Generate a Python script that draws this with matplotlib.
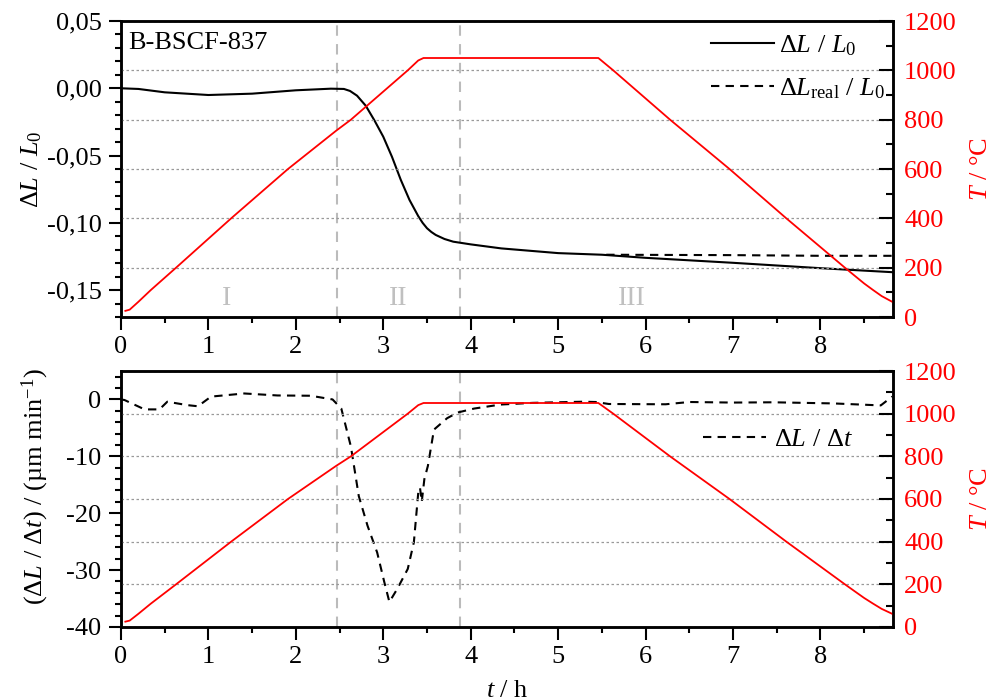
import matplotlib
matplotlib.use('Agg')
import matplotlib.pyplot as plt
from matplotlib.ticker import MultipleLocator, FuncFormatter

plt.rcParams['font.family'] = ['Liberation Serif', 'DejaVu Serif']
plt.rcParams['mathtext.fontset'] = 'custom'
plt.rcParams['mathtext.rm'] = 'Liberation Serif'
plt.rcParams['mathtext.it'] = 'Liberation Serif:italic'
plt.rcParams['font.size'] = 19
plt.rcParams['axes.unicode_minus'] = False

# Temperatur-Programm (rote Kurve, beide Diagramme)
t_temp = [0.05, 0.1, 0.2, 0.34, 0.63, 1.26, 1.91, 2.46, 2.63, 3.28, 3.4, 3.46, 5.46, 5.63,
          6.28, 6.96, 7.61, 8.28, 8.4, 8.5, 8.6, 8.7, 8.83]
temp = [25, 30, 62, 109, 200, 400, 600, 755, 800, 1000, 1040, 1050, 1050, 1000,
        800, 600, 400, 200, 165, 136, 110, 85, 60]

# relative Längenänderung
t_dl = [0, 0.2, 0.5, 1.0, 1.5, 2.0, 2.4, 2.55, 2.62, 2.7, 2.8, 2.9, 3.0, 3.1, 3.2, 3.3, 3.4,
        3.45, 3.5, 3.55, 3.6, 3.7, 3.8, 4.0, 4.35, 5.0, 5.5, 6.0, 7.0, 8.0, 8.83]
dl = [0, -0.0005, -0.003, -0.005, -0.004, -0.0015, -0.0003, -0.0005, -0.002, -0.0055, -0.013,
      -0.024, -0.036, -0.051, -0.068, -0.083, -0.095, -0.1, -0.104, -0.1068, -0.109, -0.112,
      -0.114, -0.116, -0.119, -0.1225, -0.1237, -0.126, -0.1297, -0.1337, -0.1367]

t_real = [5.55, 6.0, 7.0, 8.0, 8.83]
dl_real = [-0.1237, -0.1238, -0.124, -0.1245, -0.1245]

# Längenänderungsrate
t_rate = [0, 0.04, 0.27, 0.44, 0.53, 0.76, 0.88, 1.03, 1.41, 1.79, 2.17, 2.42, 2.52, 2.63,
          2.72, 2.82, 2.93, 3.01, 3.07, 3.16, 3.28, 3.35, 3.4, 3.42, 3.44, 3.47, 3.51, 3.58,
          3.73, 3.85, 4.04, 4.34, 4.71, 5.28, 5.43, 5.58, 6.23, 6.5, 7.0, 7.46, 8.15, 8.69, 8.82]
rate = [0, -0.1, -1.75, -1.75, -0.4, -1.0, -1.2, 0.5, 1.05, 0.7, 0.65, 0, -1.6, -8.3,
        -17, -22.2, -26.9, -32, -35.6, -33.3, -29.8, -25.1, -16.4, -15.5, -18, -14, -11.7, -5.3,
        -3.3, -2.3, -1.6, -0.9, -0.6, -0.4, -0.45, -0.8, -0.85, -0.45, -0.55, -0.5, -0.7, -1.05, 0.5]

phase_borders = [2.47, 3.88]
phase_names = ['I', 'II', 'III']
phase_pos = [1.21, 3.17, 5.84]

fig = plt.figure(figsize=(9.94, 7), dpi=100)
ax1 = fig.add_axes([0.1217, 0.5471, 0.7767, 0.4229])
ax3 = fig.add_axes([0.1217, 0.1043, 0.7767, 0.3657])
ax2 = ax1.twinx()
ax4 = ax3.twinx()

comma = FuncFormatter(lambda v, p: ('%.2f' % v).replace('.', ',').replace('-0,00', '0,00'))

for ax in (ax1, ax3):
    ax.set_xlim(0, 8.83)
    ax.xaxis.set_major_locator(MultipleLocator(1))
    ax.xaxis.set_minor_locator(MultipleLocator(0.5))
    ax.tick_params(which='both', direction='out', width=1.5, top=False, right=False, pad=5)
    ax.tick_params(which='major', length=9)
    ax.tick_params(which='minor', length=4)
    for x in phase_borders:
        ax.axvline(x, color='#bbbbbb', lw=1.5, ls=(0, (5, 4)), zorder=1)
    for s in ax.spines.values():
        s.set_linewidth(1.8)

for ax in (ax2, ax4):
    ax.set_ylim(0, 1200)
    ax.yaxis.set_major_locator(MultipleLocator(200))
    ax.yaxis.set_minor_locator(MultipleLocator(100))
    ax.tick_params(which='both', direction='in', width=1.5, colors='black', labelcolor='red', pad=8)
    ax.tick_params(which='major', length=10)
    ax.tick_params(which='minor', length=5)
    ax.grid(axis='y', color='#999999', ls=(0, (2, 2)), lw=0.9)
    ax.plot(t_temp, temp, color='red', lw=1.3)
    ax.set_ylabel(r'$T$ / °C', color='red')
    ax.yaxis.set_label_coords(1.1, 0.5)
    for s in ax.spines.values():
        s.set_linewidth(1.8)

# oberes Diagramm
ax1.set_ylim(-0.17, 0.05)
ax1.yaxis.set_major_locator(MultipleLocator(0.05))
ax1.yaxis.set_minor_locator(MultipleLocator(0.01))
ax1.yaxis.set_major_formatter(comma)
ax1.plot(t_dl, dl, color='black', lw=1.5, label=r'$\Delta L$ / $L_0$')
ax1.plot(t_real, dl_real, color='black', lw=1.5, dashes=(4, 3), label=r'$\Delta L_{\mathrm{real}}$ / $L_0$')
ax1.set_ylabel(r'$\Delta L$ / $L_0$')
ax1.yaxis.set_label_coords(-0.1, 0.5)
ax1.text(0.009, 0.926, 'B-BSCF-837', transform=ax1.transAxes, va='center', ha='left')
for name, x in zip(phase_names, phase_pos):
    ax1.text(x, -0.156, name, color='#c0c0c0', ha='center', va='center', fontsize=20)
h, l = ax1.get_legend_handles_labels()
ax2.legend(h, l, loc='upper left', bbox_to_anchor=(0.757, 0.976), frameon=False,
           borderaxespad=0, borderpad=0.2, handlelength=2.4, handletextpad=0.2, labelspacing=0.7)

# unteres Diagramm
ax3.set_ylim(-40, 5)
ax3.yaxis.set_major_locator(MultipleLocator(10))
ax3.yaxis.set_minor_locator(MultipleLocator(2))
ax3.plot(t_rate, rate, color='black', lw=1.5, dashes=(4, 3), label=r'$\Delta L$ / $\Delta t$')
ax3.set_ylabel(r'($\Delta L$ / $\Delta t$) / (µm min$^{-1}$)')
ax3.yaxis.set_label_coords(-0.09, 0.547)
ax3.set_xlabel(r'$t$ / h', labelpad=8)
h, l = ax3.get_legend_handles_labels()
ax4.legend(h, l, loc='upper left', bbox_to_anchor=(0.747, 0.8), frameon=False,
           borderaxespad=0, borderpad=0.2, handlelength=2.4, handletextpad=0.3)

fig.savefig('out.png', dpi=100)
